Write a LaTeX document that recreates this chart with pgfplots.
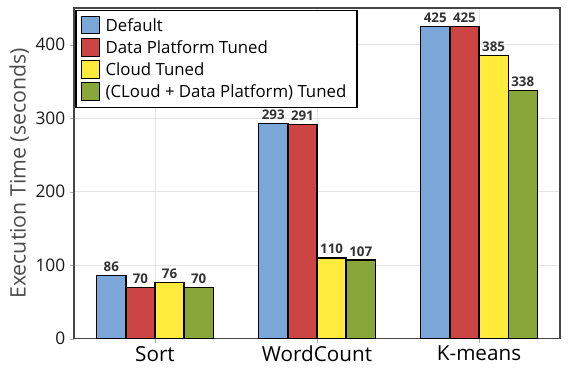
\documentclass[border=0pt]{standalone}
\usepackage{pgfplots}
\pgfplotsset{compat=1.18}
\usepackage{fontspec}
\setmainfont{Open Sans}
\definecolor{cblue}{RGB}{122,166,216}
\definecolor{cred}{RGB}{204,68,68}
\definecolor{cyellow}{RGB}{255,235,60}
\definecolor{cgreen}{RGB}{136,166,58}
\definecolor{frame}{RGB}{70,70,70}
\begin{document}
\begin{tikzpicture}
\begin{axis}[
    scale only axis,
    width=364.5pt, height=248pt,
    ybar=0pt,
    bar width=0.18,
    xmin=-0.5, xmax=2.5,
    ymin=0, ymax=450,
    xtick={0,1,2},
    xticklabels={Sort,WordCount,K-means},
    ytick={0,100,200,300,400},
    x tick label style={font=\fontsize{15.5}{17}\selectfont, text=black, yshift=1pt},
    y tick label style={font=\fontsize{13}{15}\selectfont, text=black!90},
    /pgf/number format/assume math mode=true,
    ylabel={Execution Time (seconds)},
    ylabel style={font=\fontsize{16}{18}\selectfont, text=black!70, yshift=-2pt},
    axis line style={frame, line width=1.2pt},
    grid=major,
    major grid style={draw=gray!20, line width=0.4pt},
    tick style={draw=gray!60},
    major tick length=3pt,
    tick align=outside,
    xtick pos=bottom,
    ytick pos=left,
    every axis plot/.append style={draw=black, line width=1pt},
    nodes near coords,
    nodes near coords style={font=\bfseries\fontsize{10}{11}\selectfont, text=black!80, yshift=-1pt},
    legend style={at={(0.003,0.995)}, anchor=north west, draw=black, line width=1pt,
        font=\fontsize{12.6}{14}\selectfont, row sep=1.5pt, inner xsep=4pt, inner ysep=4pt,
        nodes={inner xsep=4pt}},
    legend cell align=left,
    legend image code/.code={\draw[#1, line width=0.6pt] (0pt,-6pt) rectangle (13.5pt,7pt);},
]
\addplot[fill=cblue] coordinates {(0,86) (1,293) (2,425)};
\addplot[fill=cred] coordinates {(0,70) (1,291) (2,425)};
\addplot[fill=cyellow] coordinates {(0,76) (1,110) (2,385)};
\addplot[fill=cgreen] coordinates {(0,70) (1,107) (2,338)};
\legend{Default, Data Platform Tuned, Cloud Tuned, (CLoud + Data Platform) Tuned\hspace{13pt}}
\end{axis}
\path (current axis.south west) ++(-55.5pt,-33.75pt) coordinate (bl);
\path (current axis.north east) ++(12pt,6pt) coordinate (tr);
\path (bl) rectangle (tr);
\end{tikzpicture}
\end{document}
